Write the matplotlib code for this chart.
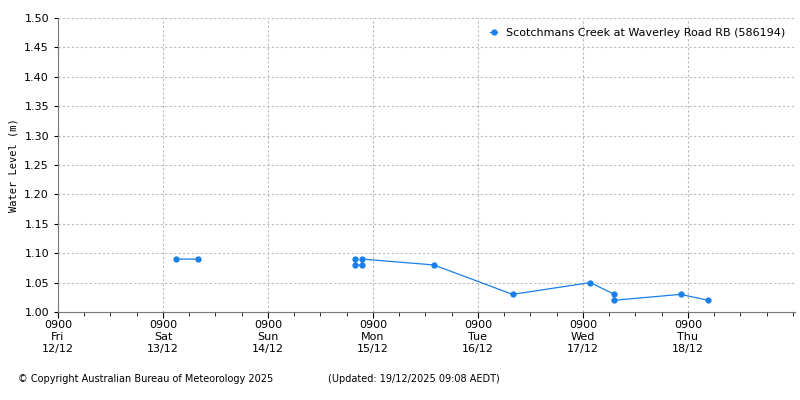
import matplotlib
matplotlib.use("Agg")
import matplotlib.pyplot as plt
import numpy as np

days = [1.124, 1.333, np.nan, 2.83, 2.83, 2.895, 2.895, 3.58, 4.33, 5.07, 5.30, 5.30, 5.93, 6.19]
levels = [1.09, 1.09, np.nan, 1.09, 1.08, 1.08, 1.09, 1.08, 1.03, 1.05, 1.03, 1.02, 1.03, 1.02]
tick_labels = ["0900\nFri\n12/12", "0900\nSat\n13/12", "0900\nSun\n14/12", "0900\nMon\n15/12",
               "0900\nTue\n16/12", "0900\nWed\n17/12", "0900\nThu\n18/12"]

plt.rcParams['font.family'] = ['DejaVu Sans']
fig = plt.figure(figsize=(8, 4), dpi=100)
ax = fig.add_axes([0.0725, 0.22, 0.9213, 0.735])
ax.plot(days, levels, color="#1a7fe8", lw=0.9, marker="o", ms=3.5)
ax.set_xlim(0, 7.02)
ax.set_ylim(1.0, 1.5)
ax.set_yticks(np.arange(1.0, 1.501, 0.05))
ax.set_yticklabels([f"{v:.2f}" for v in np.arange(1.0, 1.501, 0.05)], fontsize=8)
ax.set_xticks(range(7))
ax.set_xticklabels(tick_labels, fontsize=8)
ax.set_xticks(np.arange(0, 7.02, 0.25), minor=True)
ax.tick_params(axis='x', which='major', length=4, direction='out', pad=2)
ax.tick_params(axis='x', which='minor', length=3, direction='out')
ax.tick_params(axis='y', length=3)
ax.grid(True, which='major', ls=(0, (2, 2)), color="#bbbbbb", lw=0.8)
for s in ["top", "right"]:
    ax.spines[s].set_visible(False)
for s in ["left", "bottom"]:
    ax.spines[s].set_color("#777777")
ax.set_ylabel("Water Level (m)", fontsize=7.5, family="DejaVu Sans Mono")
ax.legend(["Scotchmans Creek at Waverley Road RB (586194)"], loc="upper right",
          frameon=False, fontsize=8, handlelength=0.6)
fig.text(0.022, 0.045, "© Copyright Australian Bureau of Meteorology 2025", fontsize=7)
fig.text(0.41, 0.045, "(Updated: 19/12/2025 09:08 AEDT)", fontsize=7)
fig.savefig("out.png")
